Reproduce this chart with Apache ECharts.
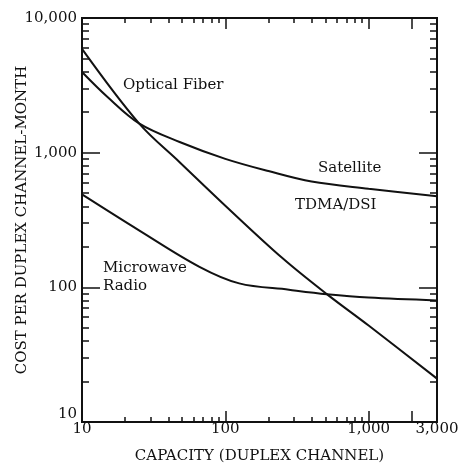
<!DOCTYPE html>
<html>
<head>
<meta charset="utf-8">
<script src="https://cdn.jsdelivr.net/npm/echarts@6/dist/echarts.min.js"></script>
<style>
html, body { margin: 0; padding: 0; background: #fff; }
#chart { width: 469px; height: 469px; }
</style>
</head>
<body>
<div id="chart"></div>
<script>
// capacity (duplex channels) vs cost per channel-month
var fiberData = [[10, 5900], [25, 1650], [48, 850], [100, 404], [250, 165], [511, 89], [1000, 52], [3000, 21]];
var satelliteData = [[10, 3970], [15, 2600], [25, 1650], [48, 1200], [100, 900], [200, 730], [400, 610], [1000, 540], [3000, 475]];
var microwaveData = [[10, 490], [25, 265], [66, 142], [125, 107], [278, 96], [511, 89], [1000, 84], [3000, 80]];

var xLabels = [10, 100, 1000, 3000];
var xMajor = [10, 100, 1000, 2000];
var xMinor = [20, 30, 40, 50, 60, 70, 80, 90, 200, 300, 400, 500, 600, 700, 800, 900];
var yLabels = [10, 100, 1000, 10000];
var yMinor = [20, 30, 40, 50, 60, 70, 80, 90, 200, 300, 400, 500, 600, 700, 800, 900, 2000, 3000, 4000, 5000, 6000, 7000, 8000, 9000];

var ink = '#111';
var serif = 'DejaVu Serif';

function fmt(v) {
	return String(Math.round(v)).replace(/\B(?=(\d{3})+(?!\d))/g, ',');
}

function xAxisDef(pos, ticks, len, withLabel) {
	return {
		type: 'log', logBase: 10, min: 10, max: 3000, position: pos,
		name: withLabel ? 'CAPACITY (DUPLEX CHANNEL)' : '',
		nameLocation: 'middle', nameGap: 27, nameMoveOverlap: false,
		nameTextStyle: { color: ink, fontFamily: serif, fontSize: 15 },
		axisLine: { show: true, lineStyle: { color: ink, width: 2 } },
		axisTick: { show: true, inside: true, length: len, customValues: ticks, lineStyle: { color: ink, width: 1.5 } },
		axisLabel: { show: withLabel, customValues: xLabels, formatter: fmt, margin: 0, color: ink, fontFamily: serif, fontSize: 15 },
		splitLine: { show: false }, minorTick: { show: false }
	};
}

function yAxisDef(pos, ticks, len, withLabel) {
	return {
		type: 'log', logBase: 10, min: 10, max: 10000, position: pos,
		name: withLabel ? 'COST PER DUPLEX CHANNEL-MONTH' : '',
		nameLocation: 'middle', nameGap: 52, nameRotate: 90, nameMoveOverlap: false,
		nameTextStyle: { color: ink, fontFamily: serif, fontSize: 15 },
		axisLine: { show: true, lineStyle: { color: ink, width: 2 } },
		axisTick: { show: true, inside: true, length: len, customValues: ticks, lineStyle: { color: ink, width: 1.5 } },
		axisLabel: {
			show: withLabel, customValues: yLabels, formatter: fmt, margin: 5, verticalAlignMinLabel: 'bottom',
			color: ink, fontFamily: serif, fontSize: 15
		},
		splitLine: { show: false }, minorTick: { show: false }
	};
}

function curve(name, data) {
	return {
		name: name, type: 'line', data: data, smooth: 0.35,
		showSymbol: false, symbol: 'none', silent: true,
		lineStyle: { color: ink, width: 2 }
	};
}

function note(text, x, y) {
	return { type: 'text', left: x, top: y, style: { text: text, fill: ink, font: '15px "DejaVu Serif"' } };
}

var chart = echarts.init(document.getElementById('chart'));
chart.setOption({
	animation: false,
	backgroundColor: '#fff',
	grid: { left: 82, right: 32, top: 18, bottom: 47, containLabel: false, outerBoundsMode: 'none' },
	xAxis: [
		xAxisDef('bottom', xMajor, 11, true),
		xAxisDef('bottom', xMinor, 5, false),
		xAxisDef('top', xMajor, 11, false),
		xAxisDef('top', xMinor, 5, false)
	],
	yAxis: [
		yAxisDef('left', yLabels, 18, true),
		yAxisDef('left', yMinor, 7, false),
		yAxisDef('right', yLabels, 18, false),
		yAxisDef('right', yMinor, 7, false)
	],
	series: [
		curve('Optical Fiber', fiberData),
		curve('Satellite', satelliteData),
		curve('Microwave Radio', microwaveData)
	],
	graphic: [
		note('Optical Fiber', 123, 78),
		note('Satellite', 318, 161),
		note('TDMA/DSI', 295, 198),
		note('Microwave', 103, 261),
		note('Radio', 103, 279)
	]
});
</script>
</body>
</html>
